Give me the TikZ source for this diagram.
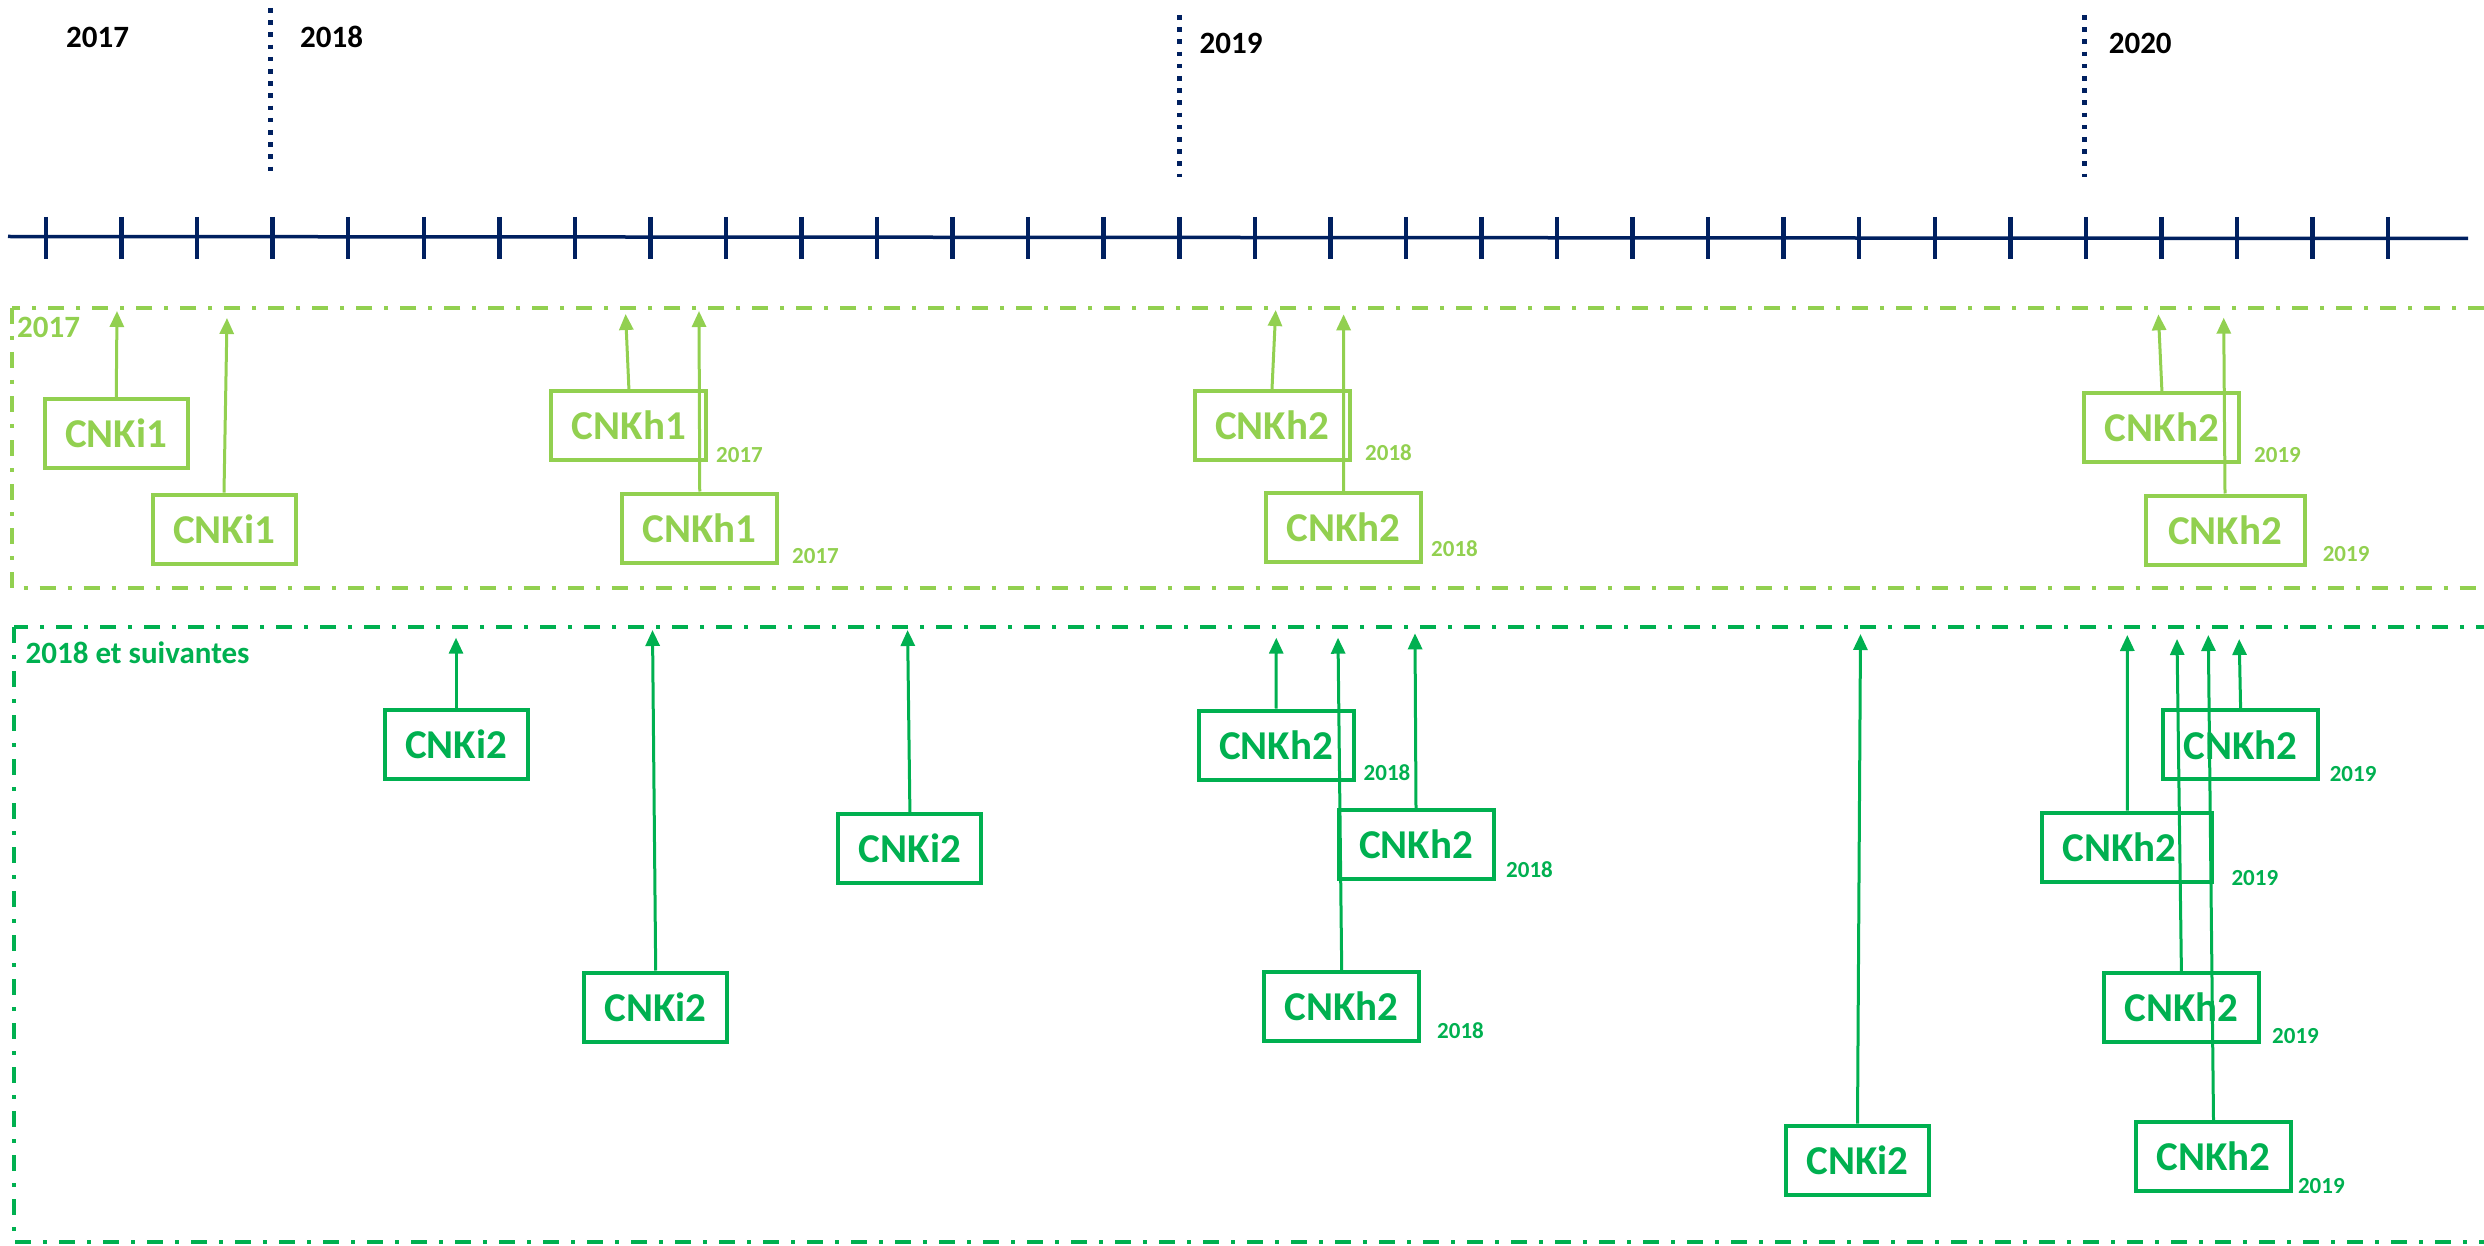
\documentclass[tikz,border=0pt]{standalone}
\usepackage{fontspec}
\setmainfont{Carlito}
\usetikzlibrary{arrows.meta}

\definecolor{navy}{HTML}{002060}
\definecolor{lgreen}{HTML}{92D050}
\definecolor{dgreen}{HTML}{00B050}

\tikzset{
  axisline/.style={navy, line width=3.5pt},
  tickmark/.style={navy, line width=4.5pt},
  yearline/.style={navy, line width=5pt, dash pattern=on 4.7pt off 7.5pt},
  yearlabel/.style={anchor=base west, inner sep=0pt, text=black,
    font=\fontsize{31pt}{31pt}\selectfont\bfseries},
  zone/.style={line width=4pt, dash pattern=on 16pt off 12pt on 4pt off 12pt},
  zonelabel/.style={anchor=base west, inner sep=0pt,
    font=\fontsize{31pt}{31pt}\selectfont\bfseries},
  card/.style={draw, line width=4pt, minimum height=69pt, inner sep=0pt,
    font=\fontsize{41pt}{41pt}\selectfont\bfseries},
  ibox/.style={card, minimum width=143pt},
  hbox/.style={card, minimum width=155pt},
  lightcard/.style={draw=lgreen, text=lgreen},
  darkcard/.style={draw=dgreen, text=dgreen},
  sublabel/.style={anchor=base west, inner sep=0pt,
    font=\fontsize{23pt}{23pt}\selectfont\bfseries},
  link/.style={line width=3pt, -{Triangle[length=16pt,width=14pt]}},
}

\begin{document}
\begin{tikzpicture}[x=1pt, y=-1pt]
\useasboundingbox (0,0) rectangle (2484,1246);

% time axis with monthly ticks
\draw[axisline] (8,236.5) -- (2468,238.5);
\foreach \i in {0,...,31}
  \draw[tickmark] ({46+75.55*\i},217) -- ++(0,42);

% year separators
\draw[yearline] (270,8) -- (270,172);
\draw[yearline] (1179.5,15) -- (1179.5,177);
\draw[yearline] (2084.6,15) -- (2084.6,177);

\node[yearlabel] (y17) at (66,48) {2017};
\node[yearlabel] (y18) at (300,48) {2018};
\node[yearlabel] (y19) at (1199.5,54) {2019};
\node[yearlabel] (y20) at (2108.6,54) {2020};

% zones
\draw[zone, lgreen] (11.7,308) rectangle (2486,588);
\draw[zone, dgreen] (14,627) rectangle (2486,1242);
\node[zonelabel, text=lgreen] (z17) at (17,338) {2017};
\node[zonelabel, text=dgreen] (z18) at (25.5,663) {2018 et suivantes};

% ---- 2017 zone ----
\node[ibox, lightcard] (A) at (116.25,433.5) {CNKi1};
\node[ibox, lightcard] (B) at (224,529.2) {CNKi1};
\node[hbox, lightcard] (C) at (628.9,425.4) {CNKh1};
\node[hbox, lightcard] (D) at (699.75,528) {CNKh1};
\node[hbox, lightcard] (E) at (1272,425.4) {CNKh2};
\node[hbox, lightcard] (F) at (1343.5,527.5) {CNKh2};
\node[hbox, lightcard] (G) at (2161.9,427.5) {CNKh2};
\node[hbox, lightcard, minimum width=159pt] (H) at (2225,530) {CNKh2};

\node[sublabel, text=lgreen] (cC) at (716,462.3) {2017};
\node[sublabel, text=lgreen] (cD) at (792,563.3) {2017};
\node[sublabel, text=lgreen] (cE) at (1365,460) {2018};
\node[sublabel, text=lgreen] (cF) at (1431,556.7) {2018};
\node[sublabel, text=lgreen] (cG) at (2254,462.7) {2019};
\node[sublabel, text=lgreen] (cH) at (2322.6,561.7) {2019};

\coordinate (tA) at (117,311);
\coordinate (tB) at (227,318);
\coordinate (tC) at (625.6,314);
\coordinate (tD) at (699,311);
\coordinate (tE) at (1275.7,310);
\coordinate (tF) at (1343.6,314.3);
\coordinate (tG) at (2158.4,314.3);
\coordinate (tH) at (2223.7,317.7);

\foreach \n in {A,B,C,D,E,F,G,H}
  \draw[link, lgreen] (\n.north) -- (t\n);

% ---- 2018 et suivantes zone ----
\node[ibox, darkcard] (I) at (456,744.7) {CNKi2};
\node[ibox, darkcard] (J) at (655.7,1007) {CNKi2};
\node[ibox, darkcard] (K) at (909.9,848.5) {CNKi2};
\node[hbox, darkcard] (L) at (1276,745) {CNKh2};
\node[hbox, darkcard] (M) at (1416,844.7) {CNKh2};
\node[hbox, darkcard] (N) at (1341.7,1006.4) {CNKh2};
\node[ibox, darkcard] (O) at (1857.5,1160.2) {CNKi2};
\node[hbox, darkcard] (P) at (2240.6,744.9) {CNKh2};
\node[card, darkcard, minimum width=170pt] (Q) at (2127.4,847.1) {\hspace*{-16pt}CNKh2};
\node[hbox, darkcard] (R) at (2181.4,1007.6) {CNKh2};
\node[hbox, darkcard] (S) at (2213.5,1156.5) {CNKh2};

\node[sublabel, text=dgreen] (cL) at (1363.5,780) {2018};
\node[sublabel, text=dgreen] (cM) at (1506,877.3) {2018};
\node[sublabel, text=dgreen] (cN) at (1437,1038.3) {2018};
\node[sublabel, text=dgreen] (cP) at (2329.6,781.8) {2019};
\node[sublabel, text=dgreen] (cQ) at (2231.3,885) {2019};
\node[sublabel, text=dgreen] (cR) at (2272,1043) {2019};
\node[sublabel, text=dgreen] (cS) at (2297.8,1193) {2019};

\coordinate (tI) at (456,637.7);
\coordinate (tJ) at (652.5,630);
\coordinate (tK) at (907.6,630);
\coordinate (tL) at (1276.3,637.7);
\coordinate (tM) at (1415,633.3);
\coordinate (tN) at (1338,637.7);
\coordinate (tO) at (1860.5,634);
\coordinate (tP) at (2239.2,639);
\coordinate (tQ) at (2127.3,635);
\coordinate (tR) at (2177,639);
\coordinate (tS) at (2208.3,635);

\foreach \n in {I,J,K,L,M,N,O,P,Q,R,S}
  \draw[link, dgreen] (\n.north) -- (t\n);
\end{tikzpicture}
\end{document}
